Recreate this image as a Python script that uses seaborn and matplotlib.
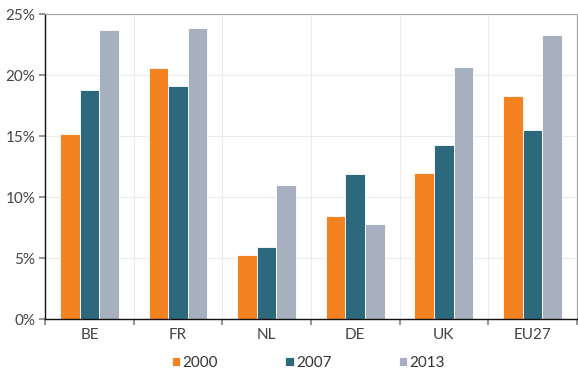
import numpy as np
import pandas as pd
import matplotlib
matplotlib.use("Agg")
import matplotlib.pyplot as plt
import seaborn as sns
from matplotlib.ticker import FixedLocator, FuncFormatter

countries = ["BE", "FR", "NL", "DE", "UK", "EU27"]
years = ["2000", "2007", "2013"]
share_2000 = [15.2, 20.6, 5.3, 8.5, 12.0, 18.3]
share_2007 = [18.8, 19.1, 5.9, 11.9, 14.3, 15.5]
share_2013 = [23.7, 23.9, 11.0, 7.8, 20.7, 23.3]
colors = ["#F58220", "#2E687C", "#A6B0BE"]

df = pd.DataFrame({
    "country": countries * 3,
    "year": [y for y in years for _ in countries],
    "share": share_2000 + share_2007 + share_2013,
})

sns.set_theme(style="white")
plt.rcParams["font.family"] = ["Lato", "DejaVu Sans"]

fig = plt.figure(figsize=(5.78, 3.73), dpi=100)
ax = fig.add_axes([0.078, 0.144, 0.92, 0.818])

sns.barplot(data=df, x="country", y="share", hue="year", order=countries,
            hue_order=years, palette=colors, width=0.665, saturation=1,
            edgecolor="white", linewidth=0.6, ax=ax)

ax.set_xlim(-0.5, len(countries) - 0.5)
ax.set_ylim(0, 25)
ax.set_yticks(np.arange(0, 26, 5))
ax.yaxis.set_major_formatter(FuncFormatter(lambda v, p: f"{v:.0f}%"))

# boundaries between countries carry the ticks and vertical grid
ax.xaxis.set_major_locator(FixedLocator(np.arange(-0.5, len(countries), 1.0)))
ax.xaxis.set_minor_locator(FixedLocator(np.arange(len(countries))))
ax.xaxis.set_major_formatter(FuncFormatter(lambda v, p: ""))
ax.xaxis.set_minor_formatter(FuncFormatter(lambda v, p: countries[int(round(v))]))
ax.tick_params(axis="x", which="major", length=4, color="#888888", direction="out", bottom=True)
ax.tick_params(axis="x", which="minor", length=0, pad=6, labelsize=11, labelcolor="#444444")
ax.tick_params(axis="y", length=4, color="#888888", direction="out", left=True,
               labelsize=11, labelcolor="#444444", pad=3)

ax.grid(True, axis="both", which="major", color="#EBEBEB", linewidth=0.8)
ax.set_axisbelow(True)

for side in ["top", "right"]:
    ax.spines[side].set_color("#A0A0A0")
    ax.spines[side].set_linewidth(0.8)
for side in ["left", "bottom"]:
    ax.spines[side].set_color("#111111")
    ax.spines[side].set_linewidth(1.0)

ax.set_xlabel("")
ax.set_ylabel("")

handles, labels = ax.get_legend_handles_labels()
ax.legend(handles, labels, loc="center", bbox_to_anchor=(0.495, -0.143),
          ncol=3, frameon=False, fontsize=11, handlelength=0.55, handleheight=0.55,
          handletextpad=0.15, columnspacing=4.4, labelcolor="#333333")

fig.savefig("out.png", dpi=100)
